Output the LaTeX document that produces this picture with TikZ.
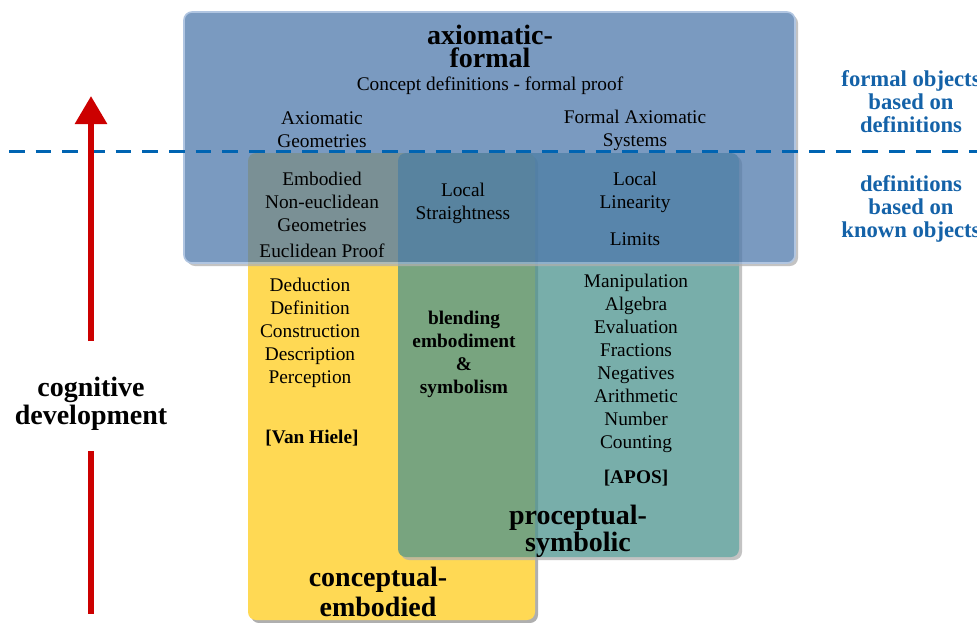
\documentclass[tikz,border=0pt]{standalone}
\usepackage{fontspec}
\setmainfont{Liberation Serif}
\usetikzlibrary{arrows.meta}

\definecolor{ceyellow}{RGB}{255,217,84}
\definecolor{psteal}{RGB}{75,147,142}
\definecolor{afblue}{RGB}{78,120,171}
\definecolor{afedge}{RGB}{150,178,215}
\definecolor{levelblue}{RGB}{0,100,178}
\definecolor{leveltext}{RGB}{20,98,168}
\definecolor{devred}{RGB}{204,0,0}
\definecolor{shadowgrey}{RGB}{175,175,175}

\begin{document}
\begin{tikzpicture}[x=0.75pt,y=-0.75pt,
  world/.style={rounded corners=6pt},
  shadowfill/.style={world, fill=shadowgrey},
  item/.style={inner sep=0pt, align=center, text=black,
    font=\fontsize{14.5}{17.25}\selectfont},
  itembold/.style={item, font=\fontsize{14.5}{17.25}\selectfont\bfseries},
  worldtitle/.style={inner sep=0pt, align=center, text=black,
    font=\fontsize{21}{#1}\selectfont\bfseries},
  leveltitle/.style={inner sep=0pt, align=center, text=leveltext,
    font=\fontsize{17}{17.25}\selectfont\bfseries},
  levelline/.style={draw=levelblue, line width=2.25pt,
    dash pattern=on 11.75pt off 8.25pt},
  devarrow/.style={draw=devred, line width=4.5pt}
]
\useasboundingbox (0,0) rectangle (977,622);

% conceptual-embodied world
\fill[shadowfill] (251,156) rectangle (538,623);
\fill[world, ceyellow] (248,153) rectangle (535,620);

% proceptual-symbolic world
\begin{scope}[transparency group, opacity=0.75]
  \fill[shadowfill] (401,156) rectangle (742,560);
  \fill[world, psteal] (398,153) rectangle (739,557);
\end{scope}

% axiomatic-formal world
\begin{scope}[transparency group, opacity=0.75]
  \fill[shadowfill] (187,15) rectangle (798,266);
  \filldraw[world, fill=afblue, draw=afedge, line width=1.2pt]
    (184,12) rectangle (795,263);
\end{scope}

% boundary between the two formal levels
\coordinate (lvlL) at (9,151);
\coordinate (lvlR) at (977,151);
\draw[levelline] (lvlL) -- (lvlR);

% axiomatic-formal
\node[worldtitle=17.25] (aftitle) at (490,46.5) {axiomatic-\\formal};
\node[item, anchor=base] (afsub) at (490,90) {Concept definitions - formal proof};
\node[item] (axgeo) at (322,130) {Axiomatic\\Geometries};
\node[item] (formsys) at (635,130.5) {Formal Axiomatic\\Systems};
\node[item] (embgeo) at (322,202) {Embodied\\Non-euclidean\\Geometries};
\node[item, anchor=base] (euclid) at (322,257) {Euclidean Proof};
\node[item] (localstr) at (463,203.5) {Local\\Straightness};
\node[item] (locallin) at (635,192.5) {Local\\Linearity};
\node[item, anchor=base] (limits) at (635,245) {Limits};

% conceptual-embodied
\node[item] (embsteps) at (310,332.5)
  {Deduction\\Definition\\Construction\\Description\\Perception};
\node[itembold, anchor=base] (vanhiele) at (312,443) {[Van Hiele]};
\node[worldtitle=22.5] (cetitle) at (378,591.5) {conceptual-\\embodied};

% blending
\node[itembold] (blend) at (464,354.5) {blending\\embodiment\\\&\\symbolism};

% proceptual-symbolic
\node[item] (symsteps) at (636,363)
  {Manipulation\\Algebra\\Evaluation\\Fractions\\Negatives\\Arithmetic\\Number\\Counting};
\node[itembold, anchor=base] (apos) at (636,483) {[APOS]};
\node[worldtitle=20.25] (pstitle) at (578,531.5) {proceptual-\\symbolic};

% level captions
\node[leveltitle] (upperlvl) at (911,102) {formal objects\\based on\\definitions};
\node[leveltitle] (lowerlvl) at (911,208.5) {definitions\\based on\\known objects};

% cognitive development
\node[worldtitle=21] (cogdev) at (91,403.5) {cognitive\\development};
\coordinate (devtip) at (91,96);
\coordinate (devup) at (91,341);
\coordinate (devdown) at (91,451);
\coordinate (devfoot) at (91,614);
\draw[devarrow, -{Triangle[width=23.25pt,length=21pt]}] (devup) -- (devtip);
\draw[devarrow] (devdown) -- (devfoot);
\end{tikzpicture}
\end{document}
